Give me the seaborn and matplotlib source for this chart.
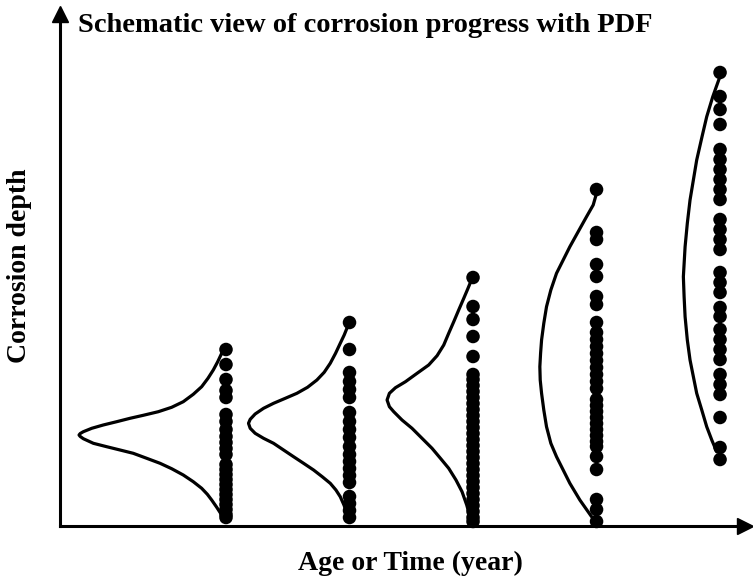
# Schematic view of corrosion progress with PDF
import numpy as np
import pandas as pd
import matplotlib
matplotlib.use("Agg")
import matplotlib.pyplot as plt
import seaborn as sns

# ------------------------------------------------------------------ #
# Data (age index, depth in arbitrary units)
ages = [1, 2, 3, 4, 5]

depth_1 = [1.76, 1.61, 1.46, 1.35, 1.28, 1.11, 1.04, 0.96, 0.89, 0.83, 0.77, 0.71,
           0.61, 0.56, 0.51, 0.46, 0.41, 0.36, 0.31, 0.26, 0.21, 0.16, 0.11, 0.08]
depth_2 = [2.03, 1.76, 1.53, 1.44, 1.36, 1.28, 1.13, 1.04, 0.96, 0.88, 0.79, 0.71,
           0.64, 0.57, 0.50, 0.43, 0.29, 0.22, 0.15, 0.08]
depth_3 = [2.48, 2.19, 2.06, 1.89, 1.69, 1.51, 1.46, 1.40, 1.34, 1.28, 1.22, 1.16,
           1.10, 1.04, 0.98, 0.92, 0.86, 0.80, 0.74, 0.68, 0.62, 0.56, 0.50, 0.44,
           0.38, 0.32, 0.26, 0.20, 0.14, 0.08, 0.04]
depth_4 = [3.36, 2.93, 2.86, 2.61, 2.49, 2.29, 2.21, 2.03, 1.93, 1.86, 1.79, 1.72,
           1.65, 1.58, 1.51, 1.44, 1.37, 1.26, 1.20, 1.14, 1.08, 1.02, 0.96, 0.90,
           0.84, 0.79, 0.69, 0.56, 0.26, 0.16, 0.04]
depth_5 = [4.53, 4.29, 4.16, 4.01, 3.76, 3.66, 3.56, 3.46, 3.36, 3.26, 3.06, 2.96,
           2.86, 2.76, 2.53, 2.43, 2.33, 2.18, 2.09, 1.96, 1.86, 1.76, 1.66, 1.51,
           1.41, 1.31, 1.08, 0.78, 0.66]

# PDF curves: depth level and density width (drawn to the left of each column)
pdf_depth_1 = [1.722, 1.638, 1.555, 1.472, 1.388, 1.312, 1.238, 1.182, 1.138, 1.102,
               1.072, 1.038, 1.005, 0.972, 0.938, 0.92, 0.905, 0.89, 0.868, 0.822,
               0.788, 0.755, 0.722, 0.672, 0.622, 0.568, 0.505, 0.438, 0.372, 0.312,
               0.255, 0.182, 0.105]
pdf_dens_1 = [0.035, 0.067, 0.103, 0.146, 0.197, 0.265, 0.346, 0.440, 0.548, 0.670,
              0.777, 0.885, 0.994, 1.087, 1.155, 1.180, 1.190, 1.180, 1.155, 1.074,
              0.966, 0.858, 0.751, 0.642, 0.534, 0.440, 0.346, 0.265, 0.197, 0.151,
              0.116, 0.075, 0.035]
pdf_depth_2 = [1.988, 1.905, 1.822, 1.722, 1.622, 1.532, 1.455, 1.382, 1.322, 1.272,
               1.222, 1.172, 1.115, 1.062, 1.022, 0.972, 0.922, 0.872, 0.822, 0.755,
               0.688, 0.622, 0.555, 0.488, 0.422, 0.355, 0.288, 0.205, 0.122]
pdf_dens_2 = [0.016, 0.043, 0.075, 0.113, 0.156, 0.205, 0.264, 0.340, 0.426, 0.520,
              0.615, 0.696, 0.764, 0.804, 0.818, 0.804, 0.764, 0.696, 0.615, 0.534,
              0.453, 0.372, 0.291, 0.221, 0.156, 0.110, 0.075, 0.045, 0.021]
pdf_depth_3 = [2.455, 2.365, 2.272, 2.155, 2.038, 1.922, 1.805, 1.698, 1.605, 1.522,
               1.438, 1.378, 1.322, 1.255, 1.188, 1.138, 1.055, 0.972, 0.872, 0.772,
               0.672, 0.572, 0.455, 0.338, 0.205, 0.072]
pdf_dens_3 = [0.013, 0.043, 0.075, 0.116, 0.156, 0.197, 0.237, 0.291, 0.359, 0.453,
              0.547, 0.628, 0.677, 0.696, 0.677, 0.642, 0.575, 0.494, 0.413, 0.332,
              0.264, 0.197, 0.138, 0.089, 0.051, 0.021]
pdf_depth_4 = [3.322, 3.205, 3.088, 2.955, 2.788, 2.655, 2.522, 2.355, 2.188, 2.022,
               1.855, 1.722, 1.588, 1.455, 1.322, 1.155, 0.988, 0.822, 0.688, 0.555,
               0.422, 0.255, 0.088]
pdf_dens_4 = [0.0, 0.027, 0.081, 0.141, 0.216, 0.270, 0.324, 0.370, 0.405, 0.427,
              0.445, 0.453, 0.459, 0.456, 0.445, 0.427, 0.405, 0.370, 0.324, 0.270,
              0.216, 0.135, 0.040]
pdf_depth_5 = [4.472, 4.288, 4.088, 3.888, 3.655, 3.455, 3.255, 3.022, 2.788, 2.488,
               2.288, 2.088, 1.855, 1.655, 1.488, 1.322, 1.155, 0.988, 0.855, 0.738]
pdf_dens_5 = [0.006, 0.059, 0.108, 0.146, 0.189, 0.216, 0.243, 0.265, 0.283, 0.297,
              0.291, 0.283, 0.265, 0.243, 0.216, 0.189, 0.148, 0.108, 0.067, 0.027]

depths = [depth_1, depth_2, depth_3, depth_4, depth_5]
pdf_depths = [pdf_depth_1, pdf_depth_2, pdf_depth_3, pdf_depth_4, pdf_depth_5]
pdf_denss = [pdf_dens_1, pdf_dens_2, pdf_dens_3, pdf_dens_4, pdf_dens_5]

title = 'Schematic view of corrosion progress with PDF'
xlabel = 'Age or Time (year)'
ylabel = 'Corrosion depth'

# ------------------------------------------------------------------ #
sns.set_style('white')
plt.rcParams['font.family'] = ['Liberation Serif', 'DejaVu Serif']
plt.rcParams['font.weight'] = 'bold'
plt.rcParams['text.color'] = 'black'

W, H = 753, 581
fig = plt.figure(figsize=(W / 100, H / 100), dpi=100)
ax = fig.add_axes([60 / W, 55.5 / H, 685 / W, 511.5 / H])

# dots
pts = pd.DataFrame({'age': np.concatenate([[a] * len(d) for a, d in zip(ages, depths)]),
                    'depth': np.concatenate(depths)})
sns.scatterplot(data=pts, x='age', y='depth', color='black', s=95,
                edgecolor='none', ax=ax, clip_on=False, zorder=3)

# pdf curves
for a, yd, dens in zip(ages, pdf_depths, pdf_denss):
    sns.lineplot(x=a - np.array(dens), y=yd, sort=False, estimator=None,
                 color='black', lw=2.3, ax=ax, zorder=2)
for ln in ax.lines:
    ln.set_solid_joinstyle('round')
    ln.set_solid_capstyle('round')

ax.set_xlim(-0.344, 5.202)
ax.set_ylim(0, 5.115)
ax.set_xticks([])
ax.set_yticks([])
ax.set_xlabel('')
ax.set_ylabel('')
for s in ['top', 'right']:
    ax.spines[s].set_visible(False)
for s in ['left', 'bottom']:
    ax.spines[s].set_linewidth(2.2)
    ax.spines[s].set_color('black')

# arrow heads
ax.plot(1, 0, '>', color='black', ms=11, transform=ax.transAxes, clip_on=False)
ax.plot(0, 1, '^', color='black', ms=11, transform=ax.transAxes, clip_on=False)

fig.text(78 / W, 1 - 26 / H, title, fontsize=20.5, fontweight='bold', color='black',
         va='center', ha='left')
fig.text(410 / W, 1 - 563 / H, xlabel, fontsize=20, fontweight='bold', color='black',
         va='center', ha='center')
fig.text(20 / W, 1 - 266 / H, ylabel, fontsize=20, fontweight='bold', color='black',
         va='center', ha='center', rotation=90)

fig.savefig('out.png', dpi=100)
plt.close()
